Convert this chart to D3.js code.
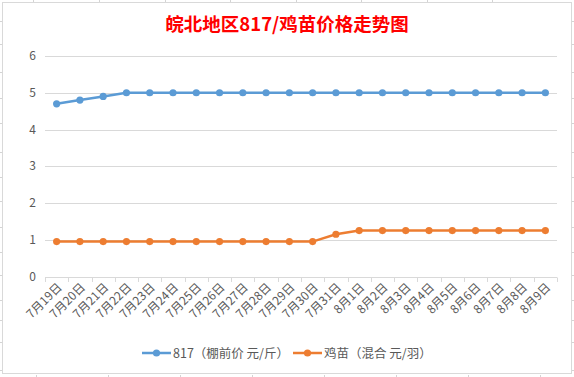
<!DOCTYPE html>
<head>
  <meta charset="utf-8">
  <title>皖北地区817/鸡苗价格走势图</title>
</head>
<style>
  body { margin: 0; background: #fff; overflow: hidden; }
  text { font-family: "Noto Sans CJK SC", "DejaVu Sans", sans-serif; }
  .grid line { stroke: #d9d9d9; stroke-width: 1px; }
  .ylab { fill: #595959; font-size: 12px; }
  .xlab { fill: #595959; font-size: 12px; }
  .leg { fill: #595959; font-size: 12.5px; }
</style>
<body>
<svg id="chart" width="574" height="377"></svg>
<script src="https://cdn.jsdelivr.net/npm/d3@7/dist/d3.min.js"></script>
<script>
  var dates = ["7月19日","7月20日","7月21日","7月22日","7月23日","7月24日","7月25日","7月26日",
               "7月27日","7月28日","7月29日","7月30日","7月31日","8月1日","8月2日","8月3日",
               "8月4日","8月5日","8月6日","8月7日","8月8日","8月9日"];
  var price817 = [4.7,4.8,4.9,5,5,5,5,5,5,5,5,5,5,5,5,5,5,5,5,5,5,5];
  var priceChick = [0.95,0.95,0.95,0.95,0.95,0.95,0.95,0.95,0.95,0.95,0.95,0.95,1.15,1.25,1.25,1.25,1.25,1.25,1.25,1.25,1.25,1.25];
  var yTicks = [0,1,2,3,4,5,6];
  var seriesNames = ["817（棚前价 元/斤）", "鸡苗（混合 元/羽）"];
  var colors = ["#5b9bd5", "#ed7d31"];

  var svg = d3.select("#chart");

  // spreadsheet cell lines peeking around the chart frame
  var edge = svg.append("g").attr("stroke", "#d4d4d4");
  [33,99,165,230,296,361,427,492].forEach(function(x) {
    edge.append("line").attr("x1", x + .5).attr("x2", x + .5).attr("y1", 0).attr("y2", 2);
  });
  [36,108,180,252,324,396,468,540].forEach(function(x) {
    edge.append("line").attr("x1", x + .5).attr("x2", x + .5).attr("y1", 375).attr("y2", 377);
  });
  [21,44,72,98,123,152,177,201,227,252,275,300,320,342,370].forEach(function(y) {
    edge.append("line").attr("x1", 0).attr("x2", 2).attr("y1", y + .5).attr("y2", y + .5);
    edge.append("line").attr("x1", 572).attr("x2", 574).attr("y1", y + .5).attr("y2", y + .5);
  });

  svg.append("rect")
    .attr("x", 2.5).attr("y", 2.5).attr("width", 569).attr("height", 371)
    .attr("fill", "#fff").attr("stroke", "#d9d9d9");

  svg.append("text")
    .attr("x", 287).attr("y", 31)
    .attr("text-anchor", "middle")
    .attr("fill", "#ff0000")
    .attr("font-size", 18.5)
    .attr("font-weight", "bold")
    .text("皖北地区817/鸡苗价格走势图");

  var x = d3.scaleBand().domain(dates).range([45, 557]);
  var y = d3.scaleLinear().domain([0, 6]).range([276.5, 56]);

  var grid = svg.append("g").attr("class", "grid");
  grid.selectAll("line").data(yTicks).enter().append("line")
    .attr("x1", 45).attr("x2", 557)
    .attr("y1", d => Math.round(y(d)) + .5).attr("y2", d => Math.round(y(d)) + .5);

  svg.selectAll(".ylab").data(yTicks).enter().append("text")
    .attr("class", "ylab")
    .attr("x", 36).attr("y", d => y(d) + 4)
    .attr("text-anchor", "end")
    .text(d => d);

  // category boundary ticks under the axis
  var bounds = dates.map(d => x(d)).concat([557]);
  grid.selectAll(".tk").data(bounds).enter().append("line")
    .attr("x1", d => Math.round(d) + .5).attr("x2", d => Math.round(d) + .5)
    .attr("y1", Math.round(y(0)) + .5).attr("y2", Math.round(y(0)) + 5);

  svg.selectAll(".xlab").data(dates).enter().append("text")
    .attr("class", "xlab")
    .attr("text-anchor", "end")
    .attr("transform", d => "translate(" + (x(d) + x.bandwidth() / 2 + 6) + "," + 288 + ") rotate(-45)")
    .text(d => d);

  var cx = d => x(d) + x.bandwidth() / 2;
  [price817, priceChick].forEach(function(vals, i) {
    var pts = dates.map((d, j) => [cx(d), y(vals[j])]);
    svg.append("path")
      .attr("d", d3.line()(pts))
      .attr("fill", "none")
      .attr("stroke", colors[i])
      .attr("stroke-width", 2.5);
    svg.append("g").selectAll("circle").data(pts).enter().append("circle")
      .attr("cx", p => p[0]).attr("cy", p => p[1]).attr("r", 3.6)
      .attr("fill", colors[i]);
  });

  // legend
  var legX = [142, 293];
  seriesNames.forEach(function(name, i) {
    var g = svg.append("g").attr("transform", "translate(" + legX[i] + ",353)");
    g.append("line").attr("x1", 0).attr("x2", 29).attr("y1", 0).attr("y2", 0)
      .attr("stroke", colors[i]).attr("stroke-width", 2.5);
    g.append("circle").attr("cx", 14.5).attr("cy", 0).attr("r", 3.6).attr("fill", colors[i]);
    g.append("text").attr("class", "leg").attr("x", 31).attr("y", 4.5).text(name);
  });
</script>
</body>
